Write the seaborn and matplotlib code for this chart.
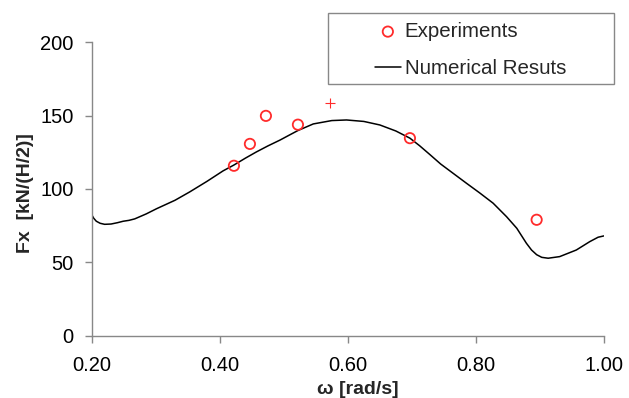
import numpy as np
import pandas as pd
import matplotlib
matplotlib.use("Agg")
import matplotlib.pyplot as plt
from matplotlib.patches import Rectangle
import seaborn as sns

exp_omega = [0.422, 0.447, 0.472, 0.522, 0.697, 0.895]
exp_fx = [115.8, 130.7, 149.8, 143.8, 134.6, 79.0]

# single "+" point near the peak
plus_omega = [0.572]
plus_fx = [158.4]

# numerical results curve
num_omega = [0.200, 0.203, 0.207, 0.213, 0.220, 0.230, 0.240, 0.249, 0.258, 0.267,
             0.285, 0.301, 0.330, 0.353, 0.380, 0.405, 0.422, 0.440, 0.457, 0.475,
             0.494, 0.509, 0.522, 0.546, 0.575, 0.598, 0.625, 0.650, 0.675, 0.697,
             0.712, 0.728, 0.745, 0.765, 0.785, 0.806, 0.827, 0.848, 0.864, 0.879,
             0.887, 0.895, 0.903, 0.913, 0.931, 0.957, 0.978, 0.991, 1.000]
num_fx = [82.3, 80.0, 78.0, 76.6, 75.9, 76.1, 77.0, 78.0, 78.6, 79.6,
          83.0, 86.5, 92.3, 98.0, 105.2, 112.3, 116.3, 121.0, 125.2, 129.3,
          133.3, 136.8, 139.8, 144.3, 146.6, 147.0, 146.0, 143.6, 139.5, 134.6,
          129.5, 123.5, 117.0, 110.5, 104.0, 97.3, 90.3, 81.1, 73.2, 63.0,
          58.4, 55.2, 53.4, 52.8, 53.9, 58.4, 64.1, 67.1, 68.0]

sns.set_style("white")
plt.rcParams["font.family"] = ["Liberation Sans", "DejaVu Sans"]

fig = plt.figure(figsize=(6.29, 3.98), dpi=100)
ax = fig.add_axes([0.146, 0.1565, 0.814, 0.7375])

red = "#ff2b2b"
sns.scatterplot(x=exp_omega, y=exp_fx, ax=ax, marker="o", s=55,
                facecolors="none", edgecolor=red, linewidth=1.3,
                label="Experiments", zorder=3)
sns.lineplot(x=num_omega, y=num_fx, ax=ax, color="black", linewidth=1.1,
             label="Numerical Resuts", sort=False, zorder=2)
ax.scatter(plus_omega, plus_fx, marker="+", s=50, color=red, linewidth=0.8, zorder=3)

ax.set_xlim(0.2, 1.0)
ax.set_ylim(0, 200)
ax.set_xticks([0.2, 0.4, 0.6, 0.8, 1.0])
ax.set_xticklabels(["0.20", "0.40", "0.60", "0.80", "1.00"])
ax.set_yticks([0, 50, 100, 150, 200])

for side in ["top", "right"]:
    ax.spines[side].set_visible(False)
for side in ["left", "bottom"]:
    ax.spines[side].set_color("#888888")
    ax.spines[side].set_linewidth(1.0)
ax.tick_params(axis="both", direction="out", length=5, width=1.0,
               color="#888888", labelsize=14.5, labelcolor="black",
               left=True, bottom=True)
ax.tick_params(axis="x", pad=9.5)
ax.tick_params(axis="y", pad=8)

ax.set_xlabel("ω [rad/s]", fontsize=14, fontweight="bold", labelpad=0)
ax.xaxis.set_label_coords(0.52, -0.155)
ax.set_ylabel("Fx  [kN/(H/2)]", fontsize=14, fontweight="bold")
ax.yaxis.set_label_coords(-0.113, 0.485)

# legend: entries without frame, box drawn separately to match the wide frame
leg = ax.legend(loc="upper left", bbox_to_anchor=(375 / 629, 1 - 22 / 398),
                bbox_transform=fig.transFigure, fontsize=14.8, frameon=False,
                handlelength=1.25, handletextpad=0.2, borderpad=0,
                labelspacing=0.9, borderaxespad=0)
fig.patches.append(Rectangle((328 / 629, 1 - 84.3 / 398), 286 / 629, 71.6 / 398,
                             transform=fig.transFigure, fill=False,
                             edgecolor="#888888", linewidth=1.0))

fig.savefig("out.png", dpi=100)
